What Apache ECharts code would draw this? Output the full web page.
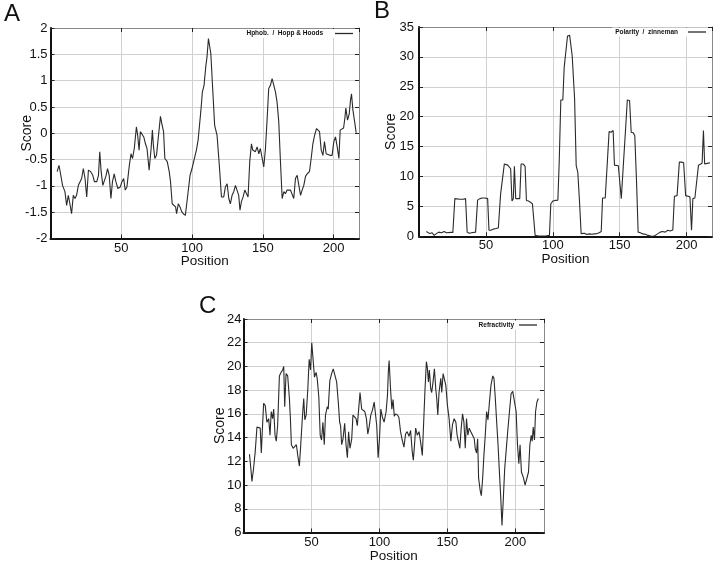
<!DOCTYPE html>
<html><head><meta charset="utf-8">
<script src="https://cdn.jsdelivr.net/npm/echarts@6/dist/echarts.min.js"></script>
<style>html,body{margin:0;padding:0;background:#fff}#c{width:718px;height:564px}</style>
</head><body><div id="c"></div>
<script>
// ---- Panel A: Hphob. / Hopp & Hoods ----
const posA = [4.7,6,7.1,8.5,10.2,11.4,12.6,13.7,14.9,16.1,17.3,18.4,19.7,20.9,22,23.2,24.4,25.6,26.8,28.4,29.9,31,32.7,33.9,34.8,35.8,37,38.2,39.3,40.3,41.5,42.7,43.8,45,46.2,47.6,49.3,50.5,51.7,52.8,54,55.7,56.9,58,59.2,60.7,61.6,62.6,63.5,64.7,65.9,67.1,68.2,69.7,71.1,72,72.7,73.7,74.9,76.1,77.7,78.7,79.9,80.8,82.5,83.9,84.8,86,87.2,88.4,89.1,90.3,91.5,92.7,93.8,95.3,96.7,98.6,100,101.4,103.1,104.3,106.2,107.3,108.5,109.7,110.6,111.6,112.4,113.3,114.6,116,117.7,119.3,120.8,122.4,123.6,124.8,126,127.1,128.3,129.5,130.7,131.8,133,133.9,134.9,136.1,137.3,138.4,139.6,140.8,142,142.9,143.9,144.8,146,147.2,148.3,149.5,150.7,151.9,153.1,154.2,155.4,156.6,157.8,159,160.1,161.3,162.5,163.7,164.9,166,167.2,168.4,169.6,170.8,171.9,173.1,174.3,175.5,176.7,177.8,179,180.2,181.4,183,184.2,185.4,186.6,188,189.2,190.1,191.3,192.5,193.6,194.8,196,197.4,199,200.2,201.4,202.6,203.8,204.7,205.7,207.1,208,208.7,209.9,211.1,212,212.7,213.7,214.9,216];
const valA = [-0.73,-0.61,-0.77,-0.99,-1.11,-1.37,-1.18,-1.34,-1.53,-1.18,-1.24,-1.18,-0.99,-1.02,-0.86,-0.67,-0.86,-1.21,-0.70,-0.73,-0.80,-0.92,-0.92,-0.80,-0.35,-0.73,-0.99,-1.02,-0.80,-0.67,-0.80,-1.24,-0.92,-0.77,-0.92,-1.05,-1.02,-0.92,-0.86,-1.08,-1.02,-0.61,-0.39,-0.48,-0.29,0.12,-0.04,-0.32,0.03,0.06,-0.07,-0.20,-0.29,-0.70,-0.29,0.06,-0.23,-0.48,-0.42,-0.10,0.32,0.18,0.03,-0.48,-0.54,-0.73,-0.92,-1.34,-1.35,-1.40,-1.53,-1.34,-1.40,-1.49,-1.53,-1.56,-1.24,-0.80,-0.67,-0.51,-0.32,-0.13,0.41,0.78,0.91,1.26,1.45,1.80,1.77,1.51,0.85,0.15,-0.04,-0.61,-1.21,-1.21,-1.02,-0.96,-1.24,-1.34,-1.18,-1.11,-0.99,-0.96,-1.18,-1.46,-1.30,-1.21,-1.08,-1.05,-1.21,-0.54,-0.20,-0.32,-0.29,-0.35,-0.26,-0.39,-0.29,-0.26,-0.64,-0.29,0.28,0.85,0.91,1.04,1.04,0.78,0.59,0.22,-0.54,-1.24,-1.11,-1.15,-1.08,-1.11,-1.08,-1.05,-1.24,-0.86,-0.80,-0.77,-1.18,-1.08,-0.99,-0.82,-0.77,-0.73,-0.48,-0.20,-0.04,0.09,0.12,0.03,-0.32,-0.42,-0.16,-0.39,-0.39,-0.42,-0.42,-0.16,-0.07,-0.26,-0.48,0.06,0.09,0.10,0.28,0.48,0.25,0.37,0.63,0.75,0.44,0.22,0.01];

// ---- Panel B: Polarity / zinneman ----
const posB = [5.5,8,9.8,11.3,13,14.8,16.8,18.8,20.5,21.8,23.8,25.3,26.8,28,30.5,33,34.8,36,37.5,39.3,40.5,42.3,43.8,45.5,47.5,49.3,51.3,52.3,53.8,55.5,57.5,59.3,61,62.3,63.8,64.8,66.3,67.5,68.5,69.5,70.5,71.3,72.3,73.8,75.3,76.3,77.8,79.3,80.3,81.8,83.3,84.8,86.8,89.3,91.8,94.8,97.5,98.5,100,101.8,103.8,104.8,106,107.5,108.5,109.8,111,112.6,113.5,114.5,116.3,117.5,118.7,120,121.2,122.4,123.6,125.4,127.3,129.3,131,133,134.7,136.2,137.2,139.2,140.6,142.1,143.6,145.1,146.1,147.5,149,150,151.2,152.7,154.4,155.7,157.4,158.6,160.1,161.3,162.6,163.8,165.5,167.2,169.2,171.2,173.2,175.1,176.6,178.6,180.3,182,184,186,187.7,189.7,190.9,192.9,194.6,196.3,197.8,199.3,200.7,202.5,203.7,204.7,206.2,207.6,208.9,210.3,211.6,212.6,213.5,215.5,217.5];
const valB = [0.8,0.45,0.6,0.15,0.45,0.7,0.6,0.8,0.6,0.8,0.65,0.65,6.3,6.3,6.2,6.2,6.3,0.7,0.5,0.6,0.8,0.7,6.05,6.3,6.4,6.4,6.3,1.0,1.0,1.2,1.3,1.4,7.1,6.9,12.1,12.3,11.9,11.7,11.3,5.9,6.3,11.7,6.3,6.3,6.3,12.1,12.1,11.7,6.0,5.9,5.7,5.4,0.15,0.05,0.05,0.05,0.15,5.4,5.9,6.0,6.05,12.4,22.8,22.8,28.2,27.9,33.5,33.6,33.5,30.2,23,11.8,10.7,5.7,0.45,0.4,0.5,0.3,0.4,0.35,0.4,0.45,0.6,0.8,6.4,6.4,6.4,17.5,17.4,17.7,11.9,11.9,11.8,9.3,6.3,11.8,17.9,22.8,22.7,17.4,17.3,16.8,9.1,0.7,0.6,0.4,0.35,0.15,0.05,0.0,0.15,0.45,0.7,0.8,0.7,1.0,0.9,1.05,6.7,6.8,12.4,12.4,12.3,6.8,6.7,6.6,1.0,6.3,6.4,6.4,11.9,12,12.2,17.7,12.1,12.2,12.3];

// ---- Panel C: Refractivity ----
const posC = [4.4,5.4,6.2,7.4,8.6,9.9,11.1,12.3,13.1,13.8,14.8,16,17.2,18.5,19.5,20.4,21.4,22.2,23.2,24.1,25.1,26.4,27.6,28.8,29.6,30.3,31.3,32.5,33.7,34.5,35.2,36.5,37.7,38.9,39.9,41.1,42.1,43.3,44.3,45.1,46.1,47.3,48.3,49.3,50.2,51.2,52.2,53.4,54.2,55.4,56.4,57.4,58.4,59.4,60.3,61.6,62.3,63.5,64.8,66,67.2,68.5,69.7,70.7,71.4,72.2,73.2,74.4,75.4,76.4,77.3,78.3,79.6,80.5,81.8,82.8,83.7,84.7,85.7,86.9,87.9,89.2,90.4,91.4,92.4,93.6,94.8,96.1,97,98,99,100,101,102.2,103.4,104.9,105.9,106.5,107.1,108.2,109.1,110,110.9,111.8,113.3,114.3,115.5,116.7,118,119.2,120.4,121.7,122.9,124.1,124.9,125.9,126.6,127.8,129.1,130.3,131.5,132.5,133.5,134.5,135.2,136,136.7,137.7,138.4,139.4,140.4,141.4,142.1,142.9,143.8,145.1,145.8,146.8,147.8,148.8,150,151.2,152.5,153.7,154.9,156.2,157.1,158.1,159.1,160.1,161.1,162.1,163.1,164,165,166,167.2,168.5,169.7,170.4,171.4,172.2,172.9,174.1,174.9,175.9,176.8,177.8,178.8,179.8,180.8,182,183.3,184.2,185.2,186.2,187.2,188.2,189.2,190.1,191.1,192.1,193.1,194.3,195.6,196.8,198,199.3,200.5,201.5,202.5,203.4,204.4,205.9,207.1,208.4,209.6,210.6,211.6,212.3,213.1,214,214.8,215.8,216.8];
const valC = [12.6,11.4,10.3,11.4,12.8,14.9,14.8,14.8,12.7,14.5,16.9,16.7,15.3,15.6,14.2,16.2,15.6,16.4,14.2,13.7,15.0,19.2,19.5,19.7,20.0,16.6,19.4,19.2,17.4,15.6,13.4,13.1,13.1,13.4,12.5,11.6,13.4,15.7,17.3,15.5,15.9,18.1,20.6,19.7,22.0,21.9,19.1,19.5,19.0,17.4,14.2,13.8,15.3,13.4,15.9,16.6,16.4,18.8,19.4,19.8,19.7,18.7,17.0,15.3,15.0,13.4,13.9,15.2,13.4,12.3,14.5,13.1,13.9,15.9,16.0,15.6,15.0,16.4,17.8,16.4,16.4,16.2,15.6,14.3,14.9,15.9,16.3,17.0,17.0,15.0,12.3,13.9,16.4,15.7,15.3,16.2,17.6,19.5,20.5,18.0,16.4,17.2,15.8,16.0,15.9,15.7,14.5,13.8,13.2,14.3,14.5,14.1,14.6,12.8,12.1,13.6,14.8,14.2,14.5,13.6,12.5,15.3,18.1,20.4,19.9,18.7,19.7,18.1,17.8,18.7,19.8,18.1,17.3,15.9,17.8,19.0,17.8,19.4,19.5,18.4,16.7,15.6,13.7,15.1,15.6,15.3,14.2,14.2,13.1,14.8,16.0,15.3,13.1,15.6,14.2,14.8,14.5,14.5,13.9,13.1,12.7,13.9,10.6,9.5,9.1,10.6,12.5,14.2,16.2,15.5,16.9,18.4,19.2,19.0,17.3,15.3,13.4,11.1,8.9,6.6,8.9,11.4,12.8,14.5,16.2,17.7,17.9,17.8,16.2,13.4,11.8,13.4,11.1,10.6,10.0,9.9,11.1,13.4,14.2,13.7,14.9,13.8,16.2,17.0,17.3];

const xTicksA = [0, 218], yRangeA = [-2, 2, 0.5];
const xTicksB = [0, 219], yRangeB = [0, 35, 5];
const xTicksC = [0, 221], yRangeC = [6, 24, 2];

const nameA = 'Hphob.  /  Hopp & Hoods';
const nameB = 'Polarity  /  zinneman';
const nameC = 'Refractivity';

const font = "'Liberation Sans', Arial, sans-serif";
const grids = [
  {left: 50.5, top: 28, width: 308.5, height: 210.5},
  {left: 419, top: 27, width: 293, height: 209.3},
  {left: 243.5, top: 319, width: 300.5, height: 214}
];
const xr = [xTicksA, xTicksB, xTicksC];
const yr = [yRangeA, yRangeB, yRangeC];
const yMargins = [3, 5, 2];
const yNameGaps = [16, 20.5, 16.5];
const xNameGaps = [15.5, 15.5, 16.5];
const gridColor = '#d0d0d0';

const xAxes = [], yAxes = [];
grids.forEach((g, i) => {
  xAxes.push({type: 'value', gridIndex: i, min: xr[i][0], max: xr[i][1], interval: 50, position: 'bottom',
    axisLine: {show: true, onZero: false, lineStyle: {color: '#111', width: 2}},
    axisTick: {show: true, inside: true, length: 4, lineStyle: {color: '#222'}},
    axisLabel: {show: true, showMinLabel: false, showMaxLabel: false, margin: 3, color: '#111', fontSize: 13, fontFamily: font},
    splitLine: {show: true, showMinLine: false, showMaxLine: false, lineStyle: {color: gridColor, width: 1, type: 'solid'}},
    name: 'Position', nameLocation: 'middle', nameGap: xNameGaps[i], nameMoveOverlap: false,
    nameTextStyle: {color: '#111', fontSize: 13.5, fontFamily: font}});
  xAxes.push({type: 'value', gridIndex: i, min: xr[i][0], max: xr[i][1], interval: 50, position: 'top',
    axisLine: {show: true, onZero: false, lineStyle: {color: '#8a8a8a', width: 1}},
    axisTick: {show: true, inside: true, length: 4, lineStyle: {color: '#222'}},
    axisLabel: {show: false}, splitLine: {show: false}});
  yAxes.push({type: 'value', gridIndex: i, min: yr[i][0], max: yr[i][1], interval: yr[i][2], position: 'left',
    axisLine: {show: true, onZero: false, lineStyle: {color: '#111', width: 2}},
    axisTick: {show: true, inside: true, length: 4, lineStyle: {color: '#222'}},
    axisLabel: {show: true, margin: yMargins[i], color: '#111', fontSize: 13, fontFamily: font},
    splitLine: {show: true, showMinLine: false, showMaxLine: false, lineStyle: {color: gridColor, width: 1, type: 'solid'}},
    name: 'Score', nameLocation: 'middle', nameGap: yNameGaps[i], nameMoveOverlap: false,
    nameTextStyle: {color: '#111', fontSize: 14, fontFamily: font}});
  yAxes.push({type: 'value', gridIndex: i, min: yr[i][0], max: yr[i][1], interval: yr[i][2], position: 'right',
    axisLine: {show: true, onZero: false, lineStyle: {color: '#8a8a8a', width: 1}},
    axisTick: {show: true, inside: true, length: 4, lineStyle: {color: '#222'}},
    axisLabel: {show: false}, splitLine: {show: false}});
});

function mk(name, pos, val, i) {
  return {type: 'line', name: name, xAxisIndex: i * 2, yAxisIndex: i * 2, showSymbol: false, symbol: 'none',
    lineStyle: {color: '#2a2a2a', width: 1.1}, itemStyle: {color: '#2a2a2a'},
    data: pos.map((p, k) => [p, val[k]])};
}

function legend(name, right, top, gap) {
  return {data: [name], right: right, top: top, orient: 'horizontal', align: 'right', icon: 'rect',
    itemWidth: 18, itemHeight: 1.3, padding: [1, 2, 1, 3], backgroundColor: '#fff',
    textStyle: {fontSize: 6.5, fontWeight: 'bold', color: '#111', fontFamily: font, padding: [0, gap, 0, 0]}};
}

const chart = echarts.init(document.getElementById('c'), null, {renderer: 'canvas'});
chart.setOption({
  animation: false,
  backgroundColor: '#fff',
  grid: grids.map(g => Object.assign({show: false}, g)),
  xAxis: xAxes,
  yAxis: yAxes,
  legend: [legend(nameA, 363, 29, 7), legend(nameB, 10, 27.5, 5), legend(nameC, 179, 320.5, 0)],
  graphic: [
    {type: 'text', left: 4, top: 2, style: {text: 'A', fontSize: 24, fontFamily: font, fill: '#111'}},
    {type: 'text', left: 374, top: -1, style: {text: 'B', fontSize: 24, fontFamily: font, fill: '#111'}},
    {type: 'text', left: 199, top: 294, style: {text: 'C', fontSize: 24, fontFamily: font, fill: '#111'}}
  ],
  series: [mk(nameA, posA, valA, 0), mk(nameB, posB, valB, 1), mk(nameC, posC, valC, 2)]
});
</script></body></html>
